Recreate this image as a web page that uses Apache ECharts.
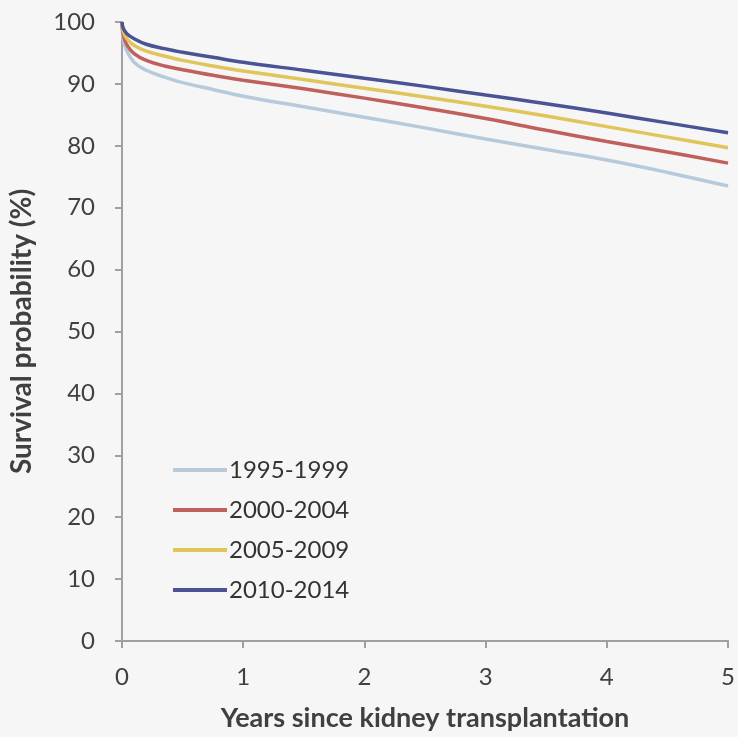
<!DOCTYPE html>
<html>
<head>
<meta charset="utf-8">
<script src="https://cdn.jsdelivr.net/npm/echarts@6/dist/echarts.min.js"></script>
<style>
html,body{margin:0;padding:0;background:#f6f6f6;}
#chart{width:738px;height:737px;}
</style>
</head>
<body>
<div id="chart"></div>
<script>
const years = [0, 0.01, 0.04, 0.1, 0.2, 0.35, 0.5, 0.75, 1.0, 1.5, 2.0, 2.5, 3.0, 3.5, 4.0, 4.5, 5.0];
const seriesNames = ['1995-1999', '2000-2004', '2005-2009', '2010-2014'];
const s1995 = [100, 97.3, 95.3, 93.5, 92.2, 91.1, 90.2, 89.1, 88.0, 86.3, 84.6, 82.9, 81.1, 79.4, 77.7, 75.7, 73.5];
const s2000 = [100, 98.0, 96.3, 94.9, 93.8, 92.9, 92.3, 91.4, 90.6, 89.2, 87.7, 86.1, 84.4, 82.5, 80.7, 79.0, 77.2];
const s2005 = [100, 98.5, 97.3, 96.2, 95.3, 94.5, 93.8, 92.9, 92.1, 90.7, 89.3, 87.9, 86.4, 84.8, 83.1, 81.4, 79.7];
const s2010 = [100, 99.0, 98.1, 97.3, 96.4, 95.7, 95.1, 94.3, 93.5, 92.2, 90.9, 89.6, 88.2, 86.8, 85.3, 83.7, 82.1];
const xTicks = [0, 1, 2, 3, 4, 5];
const yTicks = [0, 10, 20, 30, 40, 50, 60, 70, 80, 90, 100];

const colors = ['#b7cadb', '#c0605d', '#e0c55a', '#4a5394'];
const values = [s1995, s2000, s2005, s2010];
const font = 'Lato, "Open Sans", sans-serif';

const chart = echarts.init(document.getElementById('chart'));
chart.setOption({
  backgroundColor: '#f6f6f6',
  animation: false,
  grid: {left: 120, right: 8, top: 22, bottom: 94},
  legend: {
    orient: 'vertical',
    left: 168,
    top: 453,
    itemWidth: 54,
    itemHeight: 4,
    itemGap: 16,
    icon: 'rect',
    data: seriesNames,
    textStyle: {fontFamily: font, fontSize: 24, color: '#333333', padding: [0, 0, 0, -3]}
  },
  xAxis: {
    type: 'value',
    min: xTicks[0], max: xTicks[xTicks.length - 1], interval: 1,
    name: 'Years since kidney transplantation',
    nameLocation: 'middle',
    nameGap: 64,
    nameTextStyle: {fontFamily: font, fontSize: 27, fontWeight: 'bold', color: '#404040'},
    axisLine: {lineStyle: {color: '#a0a0a0', width: 2}},
    axisTick: {show: true, length: 7, lineStyle: {color: '#a0a0a0', width: 2}},
    axisLabel: {fontFamily: font, fontSize: 24, color: '#404040', margin: 24},
    splitLine: {show: false}
  },
  yAxis: {
    type: 'value',
    min: yTicks[0], max: yTicks[yTicks.length - 1], interval: 10,
    name: 'Survival probability (%)',
    nameLocation: 'middle',
    nameGap: 86,
    nameTextStyle: {fontFamily: font, fontSize: 28, fontWeight: 'bold', color: '#404040'},
    axisLine: {show: true, lineStyle: {color: '#a0a0a0', width: 2}},
    axisTick: {show: true, length: 7, lineStyle: {color: '#a0a0a0', width: 2}},
    axisLabel: {fontFamily: font, fontSize: 24, color: '#404040', margin: 27},
    splitLine: {show: false}
  },
  series: seriesNames.map((n, i) => ({
    name: n,
    type: 'line',
    data: years.map((t, j) => [t, values[i][j]]),
    showSymbol: false,
    smooth: 0.4,
    color: colors[i],
    lineStyle: {width: 3.5, color: colors[i]},
    z: 2 + i
  }))
});
</script>
</body>
</html>
